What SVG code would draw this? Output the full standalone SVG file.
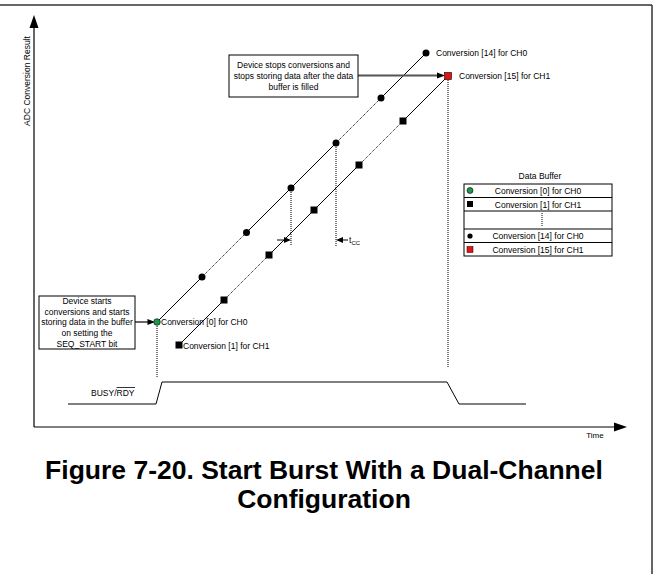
<svg xmlns="http://www.w3.org/2000/svg" width="658" height="574" viewBox="0 0 658 574">
<defs>
<style>
text{font-family:"Liberation Sans",Arial,sans-serif;fill:#000;}
.t{font-size:8.5px;}
.c{text-anchor:middle;}
.solid{stroke:#000;stroke-width:1;fill:none;}
.dot{stroke:#000;stroke-width:1;stroke-dasharray:1 1;fill:none;}
.box{fill:#fff;stroke:#000;stroke-width:1;}
.title{font-size:26.5px;font-weight:bold;text-anchor:middle;}
</style>
</defs>
<rect x="0" y="0" width="658" height="574" fill="#fff"/>
<g id="frame">
<line x1="0" y1="5" x2="652" y2="5" stroke="#333" stroke-width="1.5"/>
<line x1="652" y1="5" x2="652" y2="574" stroke="#333" stroke-width="1.5"/>
</g>
<g id="axes">
<line x1="34" y1="427" x2="34" y2="27" stroke="#000" stroke-width="1.2"/>
<polygon points="34,15 29.5,28 38.5,28" fill="#000"/>
<line x1="34" y1="427" x2="616" y2="427" stroke="#000" stroke-width="1.2"/>
<polygon points="627,427 614,422.5 614,431.5" fill="#000"/>
<text class="t" transform="translate(30,81) rotate(-90)" text-anchor="middle">ADC Conversion Result</text>
<text x="595" y="438" font-size="8" text-anchor="middle">Time</text>
</g>
<g id="connectors">
<line class="solid" x1="157" y1="322" x2="202" y2="277"/>
<line class="dot" x1="202" y1="277" x2="246.5" y2="232.5"/>
<line class="solid" x1="246.5" y1="232.5" x2="336" y2="143"/>
<line class="dot" x1="336" y1="143" x2="381" y2="98"/>
<line class="solid" x1="381" y1="98" x2="426" y2="53"/>
<line class="solid" x1="179" y1="345" x2="224" y2="300"/>
<line class="dot" x1="224" y1="300" x2="269" y2="255"/>
<line class="solid" x1="269" y1="255" x2="359" y2="165"/>
<line class="dot" x1="359" y1="165" x2="403" y2="121"/>
<line class="solid" x1="403" y1="121" x2="448" y2="76"/>
<line class="dot" x1="157" y1="322" x2="157" y2="377"/>
<line class="dot" x1="291" y1="188" x2="291" y2="246"/>
<line class="dot" x1="336" y1="143" x2="336" y2="246"/>
<line class="dot" x1="448" y1="76" x2="448" y2="367"/>
<line x1="277" y1="240" x2="285" y2="240" stroke="#000" stroke-width="1"/>
<polygon points="291,240 284,237 284,243" fill="#000"/>
<line x1="342" y1="240" x2="348" y2="240" stroke="#000" stroke-width="1"/>
<polygon points="336,240 343,237 343,243" fill="#000"/>
<line x1="135" y1="322" x2="149" y2="322" stroke="#333" stroke-width="1.5"/>
<polygon points="155,322 147.5,319 147.5,325" fill="#000"/>
<line x1="358" y1="75.5" x2="438" y2="75.5" stroke="#555" stroke-width="1.8"/>
<polygon points="445,75.5 437,72.5 437,78.5" fill="#000"/>
<path d="M68,404 H156 L162,382 H447 L459,404 H526" fill="none" stroke="#000" stroke-width="1"/>
</g>
<g id="ch0-points">
<circle cx="157" cy="322" r="3.3" fill="#1a9a4a" stroke="#000" stroke-width="0.6"/>
<circle cx="202" cy="277" r="3.5" fill="#000"/>
<circle cx="246.5" cy="232.5" r="3.5" fill="#000"/>
<circle cx="291" cy="188" r="3.5" fill="#000"/>
<circle cx="336" cy="143" r="3.5" fill="#000"/>
<circle cx="381" cy="98" r="3.5" fill="#000"/>
<circle cx="426" cy="53" r="3.5" fill="#000"/>
</g>
<g id="ch1-points">
<rect x="175.5" y="341.5" width="7" height="7" fill="#000"/>
<rect x="220.5" y="296.5" width="7" height="7" fill="#000"/>
<rect x="265.5" y="251.5" width="7" height="7" fill="#000"/>
<rect x="310.5" y="206.5" width="7" height="7" fill="#000"/>
<rect x="355.5" y="161.5" width="7" height="7" fill="#000"/>
<rect x="399.5" y="117.5" width="7" height="7" fill="#000"/>
<rect x="444.5" y="72.5" width="7" height="7" fill="#e8110f" stroke="#000" stroke-width="0.6"/>
</g>
<g id="labels">
<text class="t" x="161" y="325">Conversion [0] for CH0</text>
<text class="t" x="183" y="349">Conversion [1] for CH1</text>
<text class="t" x="436" y="56">Conversion [14] for CH0</text>
<text class="t" x="459" y="79">Conversion [15] for CH1</text>
<text class="t" x="349" y="243">t<tspan font-size="6" dy="2">CC</tspan></text>
<text class="t" x="91" y="396">BUSY/RDY</text>
<line x1="116.5" y1="387.5" x2="135" y2="387.5" stroke="#000" stroke-width="0.8"/>
</g>
<g id="start-note">
<rect class="box" x="39" y="296" width="96" height="53"/>
<text class="t c" x="87" y="304">Device starts</text>
<text class="t c" x="87" y="315">conversions and starts</text>
<text class="t c" x="87" y="325">storing data in the buffer</text>
<text class="t c" x="87" y="336">on setting the</text>
<text class="t c" x="87" y="347">SEQ_START bit</text>
</g>
<g id="stop-note">
<rect class="box" x="229" y="55" width="129" height="42"/>
<text class="t c" x="293.5" y="68">Device stops conversions and</text>
<text class="t c" x="293.5" y="79">stops storing data after the data</text>
<text class="t c" x="293.5" y="90">buffer is filled</text>
</g>
<g id="data-buffer">
<text class="t c" x="540" y="179">Data Buffer</text>
<rect class="box" x="464" y="184" width="148" height="72"/>
<line x1="464" y1="197.5" x2="612" y2="197.5" stroke="#000" stroke-width="1"/>
<line x1="464" y1="211" x2="612" y2="211" stroke="#000" stroke-width="1"/>
<line x1="464" y1="229" x2="612" y2="229" stroke="#000" stroke-width="1"/>
<line x1="464" y1="242.5" x2="612" y2="242.5" stroke="#000" stroke-width="1"/>
<line class="dot" x1="542" y1="213" x2="542" y2="227"/>
<circle cx="470" cy="190.5" r="3" fill="#1a9a4a" stroke="#000" stroke-width="0.6"/>
<rect x="467" y="201" width="6" height="6" fill="#000"/>
<circle cx="470" cy="236" r="2.6" fill="#000"/>
<rect x="467" y="246.5" width="6" height="6" fill="#e8110f" stroke="#000" stroke-width="0.5"/>
<text class="t c" x="538" y="193.5">Conversion [0] for CH0</text>
<text class="t c" x="538" y="207.5">Conversion [1] for CH1</text>
<text class="t c" x="538" y="238.5">Conversion [14] for CH0</text>
<text class="t c" x="538" y="252.5">Conversion [15] for CH1</text>
</g>
<g id="caption">
<text class="title" x="324" y="479">Figure 7-20. Start Burst With a Dual-Channel</text>
<text class="title" x="324" y="508">Configuration</text>
</g>
</svg>
